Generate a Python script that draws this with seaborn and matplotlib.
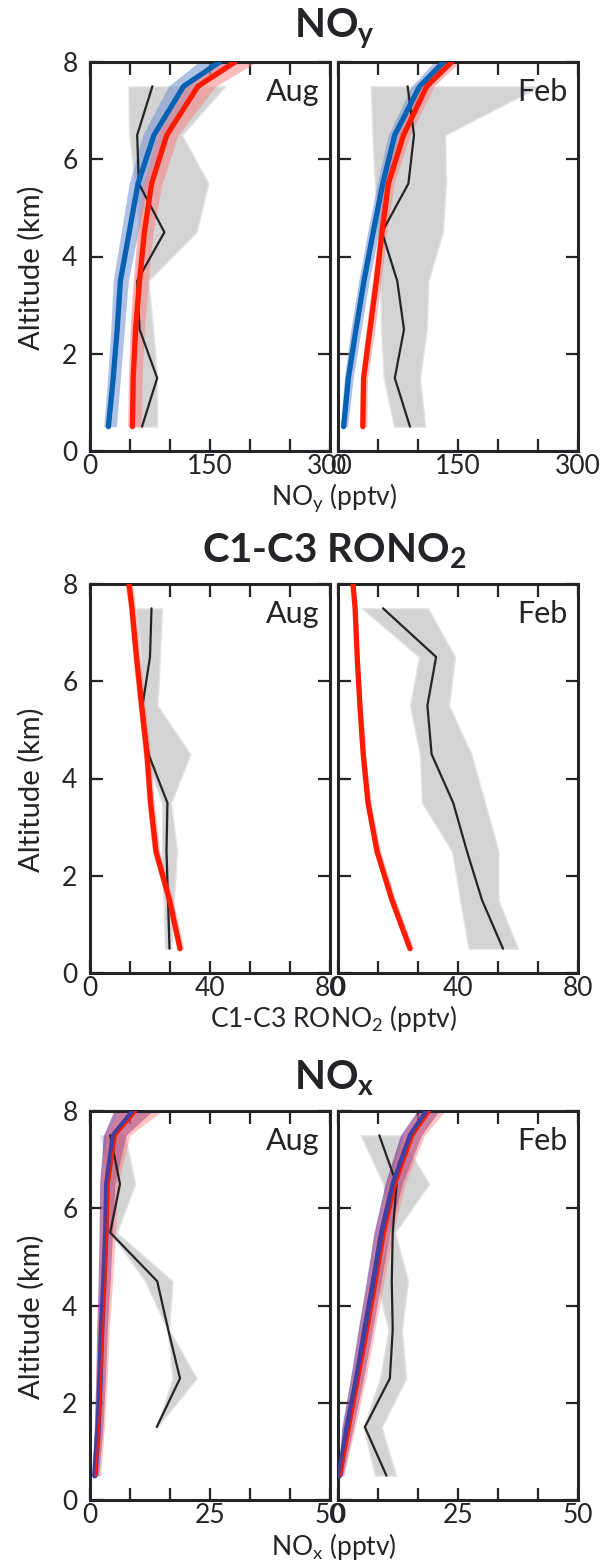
import matplotlib
matplotlib.use("Agg")
import matplotlib.pyplot as plt
import seaborn as sns

# altitude levels (km)
alt_obs = [0.5, 1.5, 2.5, 3.5, 4.5, 5.5, 6.5, 7.5]
alt_mod = [0.5, 1.5, 2.5, 3.5, 4.5, 5.5, 6.5, 7.5, 8.0]
alt_nox_aug = [1.5, 2.5, 3.5, 4.5, 5.5, 6.5, 7.5]

# NOy, August
noy_aug_obs = [65, 84, 62, 59, 93, 61, 59, 78]
noy_aug_obs_lo = [52, 54, 52, 56, 62, 56, 49, 48]
noy_aug_obs_hi = [84, 84, 79, 73, 133, 148, 115, 169]
noy_aug_m1 = [23, 29, 34, 38, 49, 60, 80, 117, 162]
noy_aug_m1_lo = [17, 22, 26, 29, 39, 49, 66, 98, 136]
noy_aug_m1_hi = [33, 38, 43, 48, 60, 72, 94, 137, 188]
noy_aug_m2 = [53, 54, 57, 62, 68, 77, 96, 135, 181]
noy_aug_m2_lo = [47, 48, 50, 54, 59, 67, 84, 120, 160]
noy_aug_m2_hi = [64, 65, 68, 73, 79, 90, 110, 157, 208]

# NOy, February
noy_feb_obs = [90, 71, 82.5, 74, 55, 88, 95, 87]
noy_feb_obs_lo = [70, 57, 54, 52.5, 50, 46, 43, 41]
noy_feb_obs_hi = [109, 102.5, 111, 113, 131, 135, 134, 252]
noy_feb_m1 = [7, 13, 22.5, 32.5, 44, 56, 71, 102, 132]
noy_feb_m1_lo = [3, 8, 16, 26, 37, 49, 63, 92, 120]
noy_feb_m1_hi = [12, 19, 29, 39, 51, 64, 80, 112, 144]
noy_feb_m2 = [31, 32, 40, 48, 55, 63, 82, 111, 142]
noy_feb_m2_lo = [27, 28, 35, 43, 50, 57, 75, 102, 130]
noy_feb_m2_hi = [36, 37, 46, 54, 61, 70, 90, 120, 152]

# C1-C3 RONO2, August
rono2_aug_obs = [26.5, 26, 25.5, 25.8, 19.5, 17.5, 20, 20.5]
rono2_aug_obs_lo = [25, 24.5, 24, 24, 18, 16.5, 17, 15.3]
rono2_aug_obs_hi = [27, 28, 29, 27, 33.5, 22.5, 23.3, 24]
rono2_aug_m2 = [30, 26.5, 22, 20.2, 19, 17.2, 15.5, 14, 13]
rono2_aug_m2_lo = [29, 25.3, 20.8, 19, 17.8, 16, 14.3, 12.8, 11.8]
rono2_aug_m2_hi = [31.2, 27.7, 23.2, 21.4, 20.2, 18.4, 16.7, 15.2, 14.2]

# C1-C3 RONO2, February
rono2_feb_obs = [55, 48, 43, 38.4, 31.2, 29.8, 32.7, 15]
rono2_feb_obs_lo = [43.5, 40.7, 38, 28, 27.3, 24, 27, 8]
rono2_feb_obs_hi = [60, 53.5, 53.5, 49, 44.5, 37, 39, 30]
rono2_feb_m2 = [24, 18, 13, 10, 8.4, 7.3, 6.4, 5.7, 5]
rono2_feb_m2_lo = [23, 17, 12, 9.2, 7.7, 6.7, 5.9, 5.2, 4.5]
rono2_feb_m2_hi = [25.2, 19.2, 14.2, 11, 9.2, 8, 7, 6.3, 5.6]

# NOx, August
nox_aug_obs = [13.9, 18.75, 16.3, 14, 4.2, 6.25, 4.2]
nox_aug_obs_lo = [13.9, 17.2, 16.1, 11.5, 4.2, 3.8, 2.2]
nox_aug_obs_hi = [14.0, 22.2, 16.5, 17.2, 5.6, 9.4, 7.3]
nox_aug_m1 = [1.0, 1.7, 2.1, 2.4, 2.9, 3.3, 3.5, 4.9, 9]
nox_aug_m1_lo = [0.5, 0.9, 1.2, 1.4, 1.7, 1.9, 2.0, 2.8, 5]
nox_aug_m1_hi = [1.8, 2.7, 3.2, 3.6, 4.2, 4.7, 5.2, 7.5, 13]
nox_aug_m2 = [1.2, 1.9, 2.3, 2.7, 3.2, 3.6, 3.9, 5.4, 9.7]
nox_aug_m2_lo = [0.6, 1.0, 1.3, 1.5, 1.9, 2.1, 2.3, 3.3, 6]
nox_aug_m2_hi = [2.2, 3.0, 3.6, 4.0, 4.7, 5.3, 5.8, 8.3, 15]

# NOx, February
nox_feb_obs = [10.1, 5.6, 10.8, 11.4, 11.2, 11.4, 12.2, 8.6]
nox_feb_obs_lo = [7.7, 5.3, 8.75, 10.5, 8, 11.0, 9.4, 4.7]
nox_feb_obs_hi = [12.1, 9.1, 14.2, 13.3, 14.6, 11.9, 19, 12.9]
nox_feb_m1 = [0.3, 1.9, 3.9, 5.6, 7.4, 9.1, 11.5, 15.1, 18.5]
nox_feb_m1_lo = [0, 0.8, 2.6, 4.2, 5.9, 7.5, 9.8, 13, 16.5]
nox_feb_m1_hi = [1.0, 3.2, 5.3, 7.2, 9.0, 10.8, 13.4, 17.4, 21]
nox_feb_m2 = [0.55, 2.5, 4.4, 6.3, 8.1, 9.8, 12.1, 15.7, 19.2]
nox_feb_m2_lo = [0.2, 1.2, 3.0, 4.7, 6.4, 8.0, 10.3, 13.6, 17]
nox_feb_m2_hi = [1.2, 3.6, 5.8, 7.7, 9.6, 11.5, 14.0, 18.0, 22.3]

sns.set_style("ticks")
FONT = "Lato"
plt.rcParams["font.family"] = [FONT, "DejaVu Sans"]
plt.rcParams["mathtext.fontset"] = "custom"
plt.rcParams["mathtext.rm"] = FONT
plt.rcParams["mathtext.bf"] = FONT + ":bold"

INK = "#222428"
GRAY = "#d3d3d3"
FS = 19


def obs_layer(ax, alt, val, lo, hi):
    ax.fill_betweenx(alt, lo, hi, color=GRAY, ec="#e4e4e4", lw=1, zorder=1)
    sns.lineplot(x=val, y=alt, orient="y", sort=False, estimator=None,
                 color=INK, lw=1.6, ax=ax, zorder=3)


def model_layer(ax, val, lo, hi, color, band, lw, alpha):
    ax.fill_betweenx(alt_mod, lo, hi, color=band, alpha=alpha, lw=0, zorder=2)
    sns.lineplot(x=val, y=alt_mod, orient="y", sort=False, estimator=None,
                 color=color, lw=lw, ax=ax, zorder=4)


def style(ax, xmax, step, show_y, month):
    ax.set_xlim(0, xmax)
    ax.set_ylim(0, 8)
    ax.set_xticks([0, xmax / 2, xmax])
    ax.set_xticklabels(["0", f"{xmax / 2:g}", f"{xmax:g}"])
    ax.set_xticks([step * i for i in range(1, int(xmax / step))], minor=True)
    ax.set_yticks([0, 2, 4, 6, 8])
    for which in ("major", "minor"):
        ax.tick_params(axis="both", which=which, direction="in", length=9,
                       width=1.6, color=INK, top=True, right=True,
                       labelsize=FS, labelcolor=INK)
    ax.tick_params(axis="x", pad=2)
    ax.tick_params(axis="y", pad=9, labelleft=show_y)
    for sp in ax.spines.values():
        sp.set_visible(True)
        sp.set_linewidth(2.2)
        sp.set_color(INK)
    ax.set_xlabel("")
    ax.set_ylabel("")
    if show_y:
        ax.set_ylabel("Altitude (km)", fontsize=21, color=INK)
        ax.yaxis.set_label_coords(-0.19, 0.47)
    ax.text(0.955, 0.96, month, transform=ax.transAxes, ha="right", va="top",
            fontsize=22, color=INK)


W, H = 608, 1564
fig = plt.figure(figsize=(W / 100, H / 100), dpi=100)


def axes_at(x0, top):
    return fig.add_axes([x0 / W, 1 - (top + 389) / H, 240 / W, 389 / H])


BLUE, BLUE_BAND = "#0862b4", "#7a9ad6"
RED, RED_BAND = "#ff1a00", "#ff7a7a"
NAVY, NAVY_BAND = "#4040a0", "#6e2c90"

rows = [62, 584, 1111]

# NOy
ax = axes_at(90, rows[0])
obs_layer(ax, alt_obs, noy_aug_obs, noy_aug_obs_lo, noy_aug_obs_hi)
model_layer(ax, noy_aug_m1, noy_aug_m1_lo, noy_aug_m1_hi, BLUE, BLUE_BAND, 3.8, 0.6)
model_layer(ax, noy_aug_m2, noy_aug_m2_lo, noy_aug_m2_hi, RED, RED_BAND, 3.8, 0.5)
style(ax, 300, 50, True, "Aug")

ax = axes_at(338, rows[0])
obs_layer(ax, alt_obs, noy_feb_obs, noy_feb_obs_lo, noy_feb_obs_hi)
model_layer(ax, noy_feb_m1, noy_feb_m1_lo, noy_feb_m1_hi, BLUE, BLUE_BAND, 3.8, 0.6)
model_layer(ax, noy_feb_m2, noy_feb_m2_lo, noy_feb_m2_hi, RED, RED_BAND, 3.8, 0.5)
style(ax, 300, 50, False, "Feb")

# RONO2
ax = axes_at(90, rows[1])
obs_layer(ax, alt_obs, rono2_aug_obs, rono2_aug_obs_lo, rono2_aug_obs_hi)
model_layer(ax, rono2_aug_m2, rono2_aug_m2_lo, rono2_aug_m2_hi, RED, RED_BAND, 3.8, 0.5)
style(ax, 80, 40 / 3, True, "Aug")

ax = axes_at(338, rows[1])
obs_layer(ax, alt_obs, rono2_feb_obs, rono2_feb_obs_lo, rono2_feb_obs_hi)
model_layer(ax, rono2_feb_m2, rono2_feb_m2_lo, rono2_feb_m2_hi, RED, RED_BAND, 3.8, 0.5)
style(ax, 80, 40 / 3, False, "Feb")

# NOx
ax = axes_at(90, rows[2])
obs_layer(ax, alt_nox_aug, nox_aug_obs, nox_aug_obs_lo, nox_aug_obs_hi)
model_layer(ax, nox_aug_m1, nox_aug_m1_lo, nox_aug_m1_hi, NAVY, NAVY_BAND, 4.0, 0.6)
model_layer(ax, nox_aug_m2, nox_aug_m2_lo, nox_aug_m2_hi, RED, RED_BAND, 1.5, 0.45)
style(ax, 50, 25 / 3, True, "Aug")

ax = axes_at(338, rows[2])
obs_layer(ax, alt_obs, nox_feb_obs, nox_feb_obs_lo, nox_feb_obs_hi)
model_layer(ax, nox_feb_m1, nox_feb_m1_lo, nox_feb_m1_hi, NAVY, NAVY_BAND, 4.0, 0.6)
model_layer(ax, nox_feb_m2, nox_feb_m2_lo, nox_feb_m2_hi, RED, RED_BAND, 1.5, 0.45)
style(ax, 50, 25 / 3, False, "Feb")

# titles and shared x labels, centred on the gap between the panels
titles = [r"NO$_\mathbf{y}$", r"C1-C3 RONO$_\mathbf{2}$", r"NO$_\mathbf{x}$"]
xlabels = [r"NO$_\mathrm{y}$ (pptv)", r"C1-C3 RONO$_\mathrm{2}$ (pptv)", r"NO$_\mathrm{x}$ (pptv)"]
for top, t, xl in zip(rows, titles, xlabels):
    fig.text(334 / W, 1 - (top - 33) / H, t, ha="center", va="center",
             fontsize=29, fontweight="bold", color=INK)
    fig.text(334 / W, 1 - (top + 389 + 46) / H, xl, ha="center", va="center",
             fontsize=FS, color=INK)

fig.savefig("out.png", dpi=100)
